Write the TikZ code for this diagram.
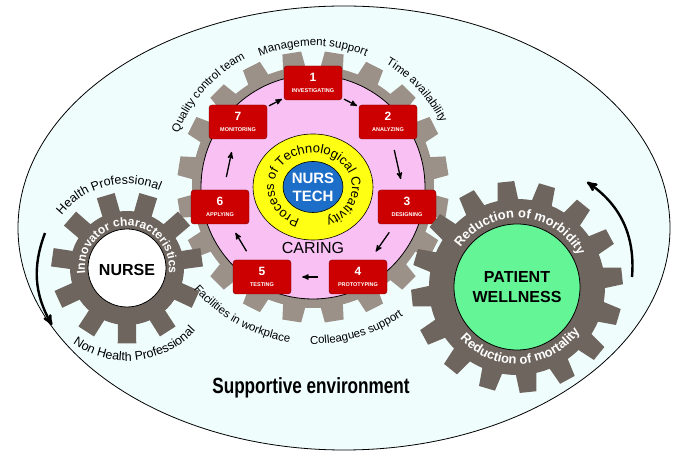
\documentclass[tikz,border=0pt]{standalone}
\usepackage{fontspec}
\setmainfont{Liberation Sans}
\usetikzlibrary{arrows,positioning,calc,decorations.text}

\definecolor{envfill}{RGB}{240,253,253}
\definecolor{geardark}{RGB}{110,101,94}
\definecolor{gearlight}{RGB}{155,145,136}
\definecolor{caringpink}{RGB}{249,192,243}
\definecolor{creayellow}{RGB}{255,255,20}
\definecolor{techblue}{RGB}{28,110,200}
\definecolor{stepred}{RGB}{204,0,0}
\definecolor{wellgreen}{RGB}{100,245,150}

\tikzset{stepbox/.style={draw=stepred!60!black,fill=stepred,rounded corners=3pt,minimum width=58pt,minimum height=34pt,inner sep=1pt,text=white,align=center,font=\bfseries}}
\tikzset{flow/.style={->,line width=1.3pt}}
\tikzset{turn/.style={->,line width=2.4pt}}

\newcommand{\stepnode}[2]{{\fontsize{12}{13}\selectfont #1}\\[-1pt]{\fontsize{5.5}{6}\selectfont #2}}

% centre, teeth, phase, body r, tip r, base half angle, tip half angle, colour
\newcommand{\cog}[8]{%
  \begin{scope}[shift={(#1)}]
    \fill[#8] (0,0) circle (#4);
    \foreach \k in {1,...,#2}{
      \pgfmathsetmacro{\a}{#3+360/#2*(\k-1)}
      \fill[#8] (\a-#6:#4-2) -- (\a-#7:#5) -- (\a+#7:#5) -- (\a+#6:#4-2) -- cycle;
    }
  \end{scope}}

% centre, radius, start, end, colour, font, text
\newcommand{\arctext}[7]{%
  \path[decorate,decoration={text along path,text align=center,text color=#5,text={|#6|#7}}]
    ([shift={(#1)}]#3:#2) arc[start angle=#3,end angle=#4,radius=#2];}

\begin{document}
\begin{tikzpicture}[x=1pt,y=1pt,>=stealth']
        \useasboundingbox (0,0) rectangle (680,457);
        \fill[white] (0,0) rectangle (680,457);
        \filldraw[fill=envfill,draw=black,line width=0.8pt] (344,229) ellipse [x radius=326,y radius=222];

        \coordinate (core) at (313,270);
        \coordinate (nurse) at (127,189);
        \coordinate (patient) at (517,170);

        % process gear
        \cog{core}{20}{9}{121}{136}{5.5}{4}{gearlight}
        \filldraw[fill=caringpink,draw=black,line width=0.8pt] (core) circle (112);
        \filldraw[fill=creayellow,draw=black,line width=0.6pt] (core) ellipse [x radius=60,y radius=53];
        \filldraw[fill=techblue,draw=black,line width=0.6pt] (core) ellipse [x radius=30,y radius=25.5];
        \node[text=white,font=\bfseries\fontsize{15}{18}\selectfont,align=center] (tech) at (core) {NURS\\TECH};
        \path[decorate,decoration={text along path,text align=center,text={|\fontsize{13}{13}\selectfont|Process of Technological Creativity}}]
          ([shift={(core)}]250:39 and 34) arc[start angle=250,end angle=-70,x radius=39,y radius=34];
        \node[font=\fontsize{16}{16}\selectfont] (caring) at (313,209) {CARING};

        \node[stepbox] (s1) at (313,374) {\stepnode{1}{INVESTIGATING}};
        \node[stepbox] (s2) at (388,335) {\stepnode{2}{ANALYZING}};
        \node[stepbox] (s3) at (407,250) {\stepnode{3}{DESIGNING}};
        \node[stepbox] (s4) at (358,180) {\stepnode{4}{PROTOTYPING}};
        \node[stepbox] (s5) at (262,180) {\stepnode{5}{TESTING}};
        \node[stepbox] (s6) at (220,250) {\stepnode{6}{APPLYING}};
        \node[stepbox] (s7) at (238,335) {\stepnode{7}{MONITORING}};
        \foreach \from/\to/\gap in {s7/s1/2,s1/s2/2,s2/s3/11,s3/s4/10,s4/s5/11,s5/s6/10,s6/s7/13}
          \draw[flow,shorten <=\gap pt,shorten >=\gap pt] (\from) -- (\to);

        % nurse gear
        \cog{nurse}{11}{270}{57}{76}{9.5}{7}{geardark}
        \filldraw[fill=white,draw=black,line width=0.8pt] (nurse) circle (39);
        \node[font=\bfseries\fontsize{16}{16}\selectfont] (nursetxt) at (127,187) {NURSE};
        \arctext{nurse}{42}{215}{-35}{white}{\bfseries\fontsize{12}{12}\selectfont}{Innovator characteristics}
        \arctext{nurse}{84}{150}{58}{black}{\fontsize{12.5}{13}\selectfont}{Health Professional}
        \arctext{nurse}{93}{226}{326}{black}{\fontsize{12.5}{13}\selectfont}{Non Health Professional}

        % patient gear
        \cog{patient}{16}{6}{88}{106}{7}{4.5}{geardark}
        \filldraw[fill=wellgreen,draw=black,line width=0.8pt] (patient) circle (63);
        \node[font=\bfseries\fontsize{16}{20}\selectfont,align=center] (welltxt) at (patient) {PATIENT\\WELLNESS};
        \arctext{patient}{69}{160}{12}{white}{\bfseries\fontsize{13}{14}\selectfont}{Reduction of morbidity}
        \arctext{patient}{77}{200}{347}{white}{\bfseries\fontsize{13}{14}\selectfont}{Reduction of mortality}

        % supports round the process gear
        \arctext{core}{141}{135}{45}{black}{\fontsize{11.5}{12}\selectfont}{Management support}
        \arctext{core}{143}{88}{-2}{black}{\fontsize{11.5}{12}\selectfont}{Time availability}
        \arctext{core}{145}{183}{93}{black}{\fontsize{11.5}{12}\selectfont}{Quality control team}
        \arctext{core}{157}{196}{286}{black}{\fontsize{11.5}{12}\selectfont}{Facilities in workplace}
        \arctext{core}{157}{242}{332}{black}{\fontsize{11.5}{12}\selectfont}{Colleagues support}

        \coordinate (hp) at (45,224);
        \coordinate (nhp) at (52,132);
        \draw[turn] (hp) to[bend right=25] (nhp);
        \coordinate (mort) at (632,180);
        \coordinate (morb) at (587,275);
        \draw[turn] (mort) to[bend right=30] (morb);

        \node[font=\bfseries\fontsize{22}{24}\selectfont] (env) at (311,69) {\scalebox{0.78}[1]{Supportive environment}};
\end{tikzpicture}
\end{document}
